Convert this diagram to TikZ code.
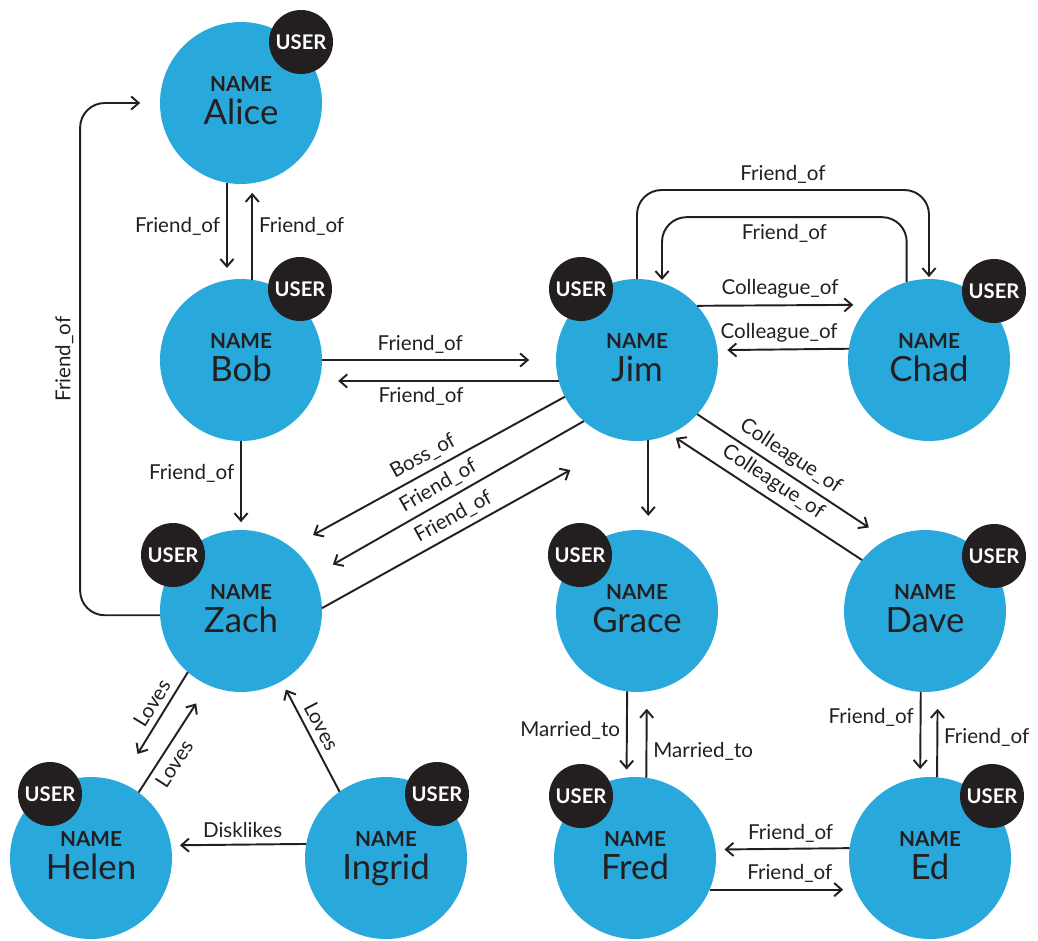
\documentclass[tikz,border=0pt]{standalone}
\usepackage{fontspec}
\setmainfont{Lato}
\usetikzlibrary{arrows.meta}
\definecolor{nodeblue}{RGB}{41,168,220}
\definecolor{ink}{RGB}{35,31,32}
\newcommand\who[1]{\raisebox{0pt}[0pt][0pt]{%
  \makebox[0pt]{\raisebox{6.8pt}{\fontsize{11.8}{12}\bfseries NAME}}%
  \makebox[0pt]{\raisebox{-12.5pt}{\fontsize{19.8}{20}\selectfont #1}}}}
\tikzset{
  person/.style={circle, fill=nodeblue, minimum size=3.24cm, inner sep=0pt, outer sep=0pt, text=ink},
  badge/.style={circle, fill=ink, minimum size=1.28cm, inner sep=0pt, text=white, font=\fontsize{11.5}{12}\bfseries},
  rel/.style={draw=ink, line width=1.1pt, -{Straight Barb[length=4.3pt,width=7.5pt]}},
  lbl/.style={font=\fontsize{11.7}{13}\selectfont, text=ink}
}
\begin{document}
\begin{tikzpicture}[x=0.02cm, y=-0.02cm]
\useasboundingbox (0,0) rectangle (1038,940);
% people
\node[person] (alice) at (241,103) {\who{Alice}};
\node[person] (bob) at (241,360) {\who{Bob}};
\node[person] (jim) at (637,360) {\who{Jim}};
\node[person] (chad) at (929,360) {\who{Chad}};
\node[person] (zach) at (241,611) {\who{Zach}};
\node[person] (grace) at (637,611) {\who{Grace}};
\node[person] (dave) at (925,611) {\who{Dave}};
\node[person] (helen) at (91,858) {\who{Helen}};
\node[person] (ingrid) at (386,858) {\who{Ingrid}};
\node[person] (fred) at (635,858) {\who{Fred}};
\node[person] (ed) at (930,858) {\who{Ed}};
% USER badges
\node[badge] (aliceU) at (301,42) {USER};
\node[badge] (bobU) at (300,289) {USER};
\node[badge] (jimU) at (581,289) {USER};
\node[badge] (chadU) at (994,291) {USER};
\node[badge] (zachU) at (173,555) {USER};
\node[badge] (graceU) at (580,555) {USER};
\node[badge] (daveU) at (994,556) {USER};
\node[badge] (helenU) at (50,794) {USER};
\node[badge] (ingridU) at (437,794) {USER};
\node[badge] (fredU) at (581,796) {USER};
\node[badge] (edU) at (992,796) {USER};
% Alice, Bob, Zach
\draw[rel, shorten >=7pt] (alice.-100.7) -- node[lbl, pos=.45, left]{Friend\_of} (bob.100.7);
\draw[rel, shorten >=5.5pt] (bob.82.2) -- node[lbl, pos=.55, right]{Friend\_of} (alice.-82.2);
\draw[rel, shorten >=4.5pt] (bob) -- node[lbl, pos=.36, left]{Friend\_of} (zach);
\draw[rel, rounded corners=14pt, shorten >=11.3pt] (zach.183) -- ++(-80,0) |- node[lbl, pos=.25, above, rotate=90]{Friend\_of} (alice.west);
% Bob and Jim
\draw[rel, shorten >=15.3pt] (bob) -- node[lbl, pos=.42, above]{Friend\_of} (jim);
\draw[rel, shorten >=10.8pt] (jim.195.8) -- node[lbl, pos=.575, below]{Friend\_of} (bob.-15.8);
% Jim and Chad
\draw[rel, shorten >=9.4pt] (jim.42.8) -- node[lbl, pos=.48, above]{Colleague\_of} (chad.137.2);
\draw[rel, shorten >=5.7pt] (chad.172.2) -- node[lbl, pos=.53, above]{Colleague\_of} (jim.7.8);
\draw[rel, rounded corners=14pt, shorten >=1.1pt] (jim.north) -- ++(0,-89) -| node[lbl, pos=.25, above]{Friend\_of} (chad.north);
\draw[rel, rounded corners=14pt, shorten >=1.7pt] (chad.106.5) -- ++(0,-65) -| node[lbl, pos=.25, below]{Friend\_of} (jim.72);
% Jim and Zach
\draw[rel, shorten >=14.4pt] (jim.207.2) -- node[lbl, pos=.49, above, sloped]{Boss\_of} (zach.52.1);
\draw[rel, shorten >=12.5pt] (jim.229.4) -- node[lbl, pos=.51, above, sloped]{Friend\_of} (zach.26.3);
\draw[rel, shorten >=35.2pt] (zach.2.1) -- node[lbl, pos=.46, above, sloped]{Friend\_of} (jim.-99.2);
% Jim, Grace, Dave
\draw[rel, shorten >=8.5pt] (jim.-82.2) -- (grace.82.2);
\draw[rel, shorten >=12.4pt] (jim.-42.5) -- node[lbl, pos=.445, above, sloped]{Colleague\_of} (dave.118.7);
\draw[rel, shorten >=4pt] (dave.141.9) -- node[lbl, pos=.51, above, sloped]{Colleague\_of} (jim.-66.5);
% Zach, Helen, Ingrid
\draw[rel, shorten >=19pt] (zach.229.8) -- node[lbl, pos=.35, above, sloped]{Loves} (helen.69.9);
\draw[rel, shorten >=12.5pt] (helen.54) -- node[lbl, pos=.34, below, sloped]{Loves} (zach.246.9);
\draw[rel, shorten >=5.4pt] (ingrid.125.5) -- node[lbl, pos=.53, above, sloped]{Loves} (zach.-60.8);
\draw[rel, shorten >=5.1pt] (ingrid.170.8) -- node[lbl, pos=.47, above]{Disklikes} (helen.9.2);
% Grace, Fred, Dave, Ed
\draw[rel, shorten >=4.5pt] (grace.-97.8) -- node[lbl, pos=.45, left]{Married\_to} (fred.96.4);
\draw[rel, shorten >=9.9pt] (fred.82.2) -- node[lbl, pos=.3, right]{Married\_to} (grace.-83.6);
\draw[rel, shorten >=4.9pt] (dave.-93.5) -- node[lbl, pos=.3, left]{Friend\_of} (ed.97.1);
\draw[rel, shorten >=10.2pt] (ed.85) -- node[lbl, pos=.46, right]{Friend\_of} (dave.-81.5);
\draw[rel, shorten >=5.1pt] (ed.173.3) -- node[lbl, pos=.44, above]{Friend\_of} (fred.6.7);
\draw[rel, shorten >=7pt] (fred.-23) -- node[lbl, pos=.55, above]{Friend\_of} (ed.203);
\end{tikzpicture}
\end{document}
